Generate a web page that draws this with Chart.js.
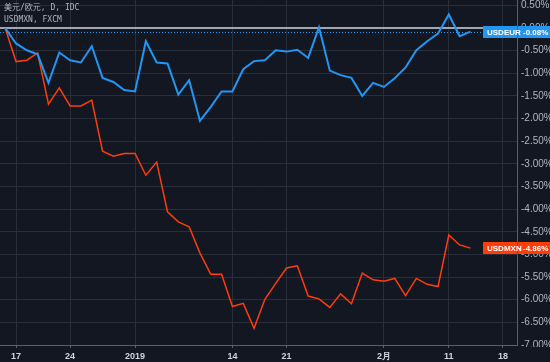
<!DOCTYPE html>
<html>
<head>
<meta charset="utf-8">
<script src="https://cdn.jsdelivr.net/npm/chart.js@4.4.0/dist/chart.umd.min.js"></script>
<style>
html, body { margin: 0; padding: 0; background: #131722; }
#wrap { position: relative; width: 550px; height: 362px; }
#legend {
    position: absolute; left: 4px; top: 2px;
    font: 8px 'DejaVu Sans Mono', 'Noto Sans CJK SC', monospace;
    color: #b2b5be; line-height: 12px; pointer-events: none;
}
</style>
</head>
<body>
<div id="wrap">
    <canvas id="chart" width="550" height="362"></canvas>
    <div id="legend"><div>美元/欧元, D, IDC</div><div>USDMXN, FXCM</div></div>
</div>
<script>
// ========== 数据 ==========
// 交易日 (2018-12-14 ~ 2019-02-18)
const days = [
    '12-14', '12-17', '12-18', '12-19', '12-20', '12-21', '12-24', '12-25', '12-26', '12-27', '12-28', '12-31',
    '01-01', '01-02', '01-03', '01-04', '01-07', '01-08', '01-09', '01-10', '01-11',
    '01-14', '01-15', '01-16', '01-17', '01-18', '01-21', '01-22', '01-23', '01-24', '01-25',
    '01-28', '01-29', '01-30', '01-31', '02-01', '02-04', '02-05', '02-06', '02-07', '02-08',
    '02-11', '02-12', '02-13', '02-14', '02-15', '02-18'
];
const tickDays = ['12-17', '12-24', '01-01', '01-14', '01-21', '02-01', '02-11', '02-18'];
const tickLabels = ['17', '24', '2019', '14', '21', '2月', '11', '18'];

// 涨跌幅 (%)
const usdeur = [0.00, -0.34, -0.49, -0.58, -1.21, -0.54, -0.71, -0.76, -0.40, -1.10, -1.19, -1.37, -1.40,
    -0.29, -0.76, -0.78, -1.47, -1.15, -2.05, -1.74, -1.40, -1.40, -0.91, -0.73, -0.71, -0.49, -0.52,
    -0.48, -0.66, 0.02, -0.94, -1.04, -1.10, -1.50, -1.21, -1.30, -1.11, -0.87, -0.49, -0.29, -0.12,
    0.30, -0.18, -0.08];
const usdmxn = [0.00, -0.74, -0.71, -0.55, -1.68, -1.32, -1.72, -1.72, -1.59, -2.72, -2.83, -2.77, -2.77,
    -3.25, -2.96, -4.06, -4.28, -4.39, -4.97, -5.44, -5.44, -6.15, -6.08, -6.63, -5.99, -5.64, -5.30,
    -5.25, -5.92, -5.98, -6.17, -5.87, -6.09, -5.41, -5.56, -5.59, -5.53, -5.91, -5.53, -5.66, -5.71,
    -4.57, -4.79, -4.86];

const BG = '#131722';
const BLUE = '#2196f3';
const RED = '#ff3d0a';
const GRID = '#2a2e39';
const AXIS = '#5d606b';

const toPoints = arr => arr.map((v, i) => ({ x: i, y: v }));

// ========== 插件: 最新值标签 ==========
const lastValuePlugin = {
    id: 'lastValue',
    afterDraw(chart) {
        const { ctx, chartArea, scales } = chart;
        const y = scales.y;
        // 底部遮挡 (-7.00% 被截断)
        ctx.save();
        ctx.fillStyle = BG;
        ctx.fillRect(chartArea.right + 1, chartArea.bottom + 2, chart.width, chart.height);

        const items = [
            { name: 'USDEUR', value: usdeur[usdeur.length - 1], color: BLUE },
            { name: 'USDMXN', value: usdmxn[usdmxn.length - 1], color: RED }
        ];
        items.forEach(it => {
            const py = Math.round(y.getPixelForValue(it.value));
            ctx.fillStyle = it.color;
            ctx.fillRect(chartArea.right - 34, py - 6, chart.width - chartArea.right + 34, 12);
            ctx.fillStyle = 'rgba(0,0,0,0.25)';
            ctx.fillRect(chartArea.right, py - 6, 1, 12);
            ctx.fillStyle = '#ffffff';
            ctx.font = 'bold 8px "Liberation Sans", Arial, sans-serif';
            ctx.textBaseline = 'middle';
            ctx.textAlign = 'left';
            ctx.fillText(it.name, chartArea.right - 30, py + 0.5);
            ctx.fillRect(chartArea.right + 1, py, 2, 1);
            ctx.fillText(it.value.toFixed(2) + '%', chartArea.right + 6, py + 0.5);
        });
        ctx.restore();
    },
    beforeDatasetsDraw(chart) {
        // 当前值虚线
        const { ctx, chartArea, scales } = chart;
        const py = Math.round(scales.y.getPixelForValue(usdeur[usdeur.length - 1])) + 0.5;
        ctx.save();
        ctx.strokeStyle = BLUE;
        ctx.lineWidth = 1;
        ctx.setLineDash([1, 2]);
        ctx.beginPath();
        ctx.moveTo(chartArea.left, py);
        ctx.lineTo(chartArea.right, py);
        ctx.stroke();
        ctx.restore();
    }
};

const noPad = scale => {
    scale.paddingTop = 0;
    scale.paddingBottom = 0;
    scale.paddingLeft = 0;
    scale.paddingRight = 0;
};

// ========== 图表 ==========
new Chart(document.getElementById('chart').getContext('2d'), {
    type: 'line',
    data: {
        datasets: [
            {
                label: 'USDEUR',
                data: toPoints(usdeur),
                borderColor: BLUE,
                borderWidth: 2,
                pointRadius: 0,
                tension: 0,
                fill: false
            },
            {
                label: 'USDMXN',
                data: toPoints(usdmxn),
                borderColor: RED,
                borderWidth: 1.5,
                pointRadius: 0,
                tension: 0,
                fill: false
            }
        ]
    },
    options: {
        responsive: false,
        animation: false,
        layout: { padding: 0 },
        plugins: {
            legend: { display: false },
            tooltip: { enabled: false }
        },
        scales: {
            x: {
                type: 'linear',
                min: -0.48,
                max: 47.3,
                afterBuildTicks: scale => {
                    scale.ticks = tickDays.map(d => ({ value: days.indexOf(d) }));
                },
                afterFit: scale => { scale.height = 17; noPad(scale); },
                grid: { color: GRID, tickLength: 3, tickColor: AXIS },
                border: { color: AXIS },
                ticks: {
                    color: '#d1d4dc',
                    padding: 3,
                    maxRotation: 0,
                    autoSkip: false,
                    font: { size: 9, weight: 'bold', family: '"Liberation Sans", Arial, sans-serif' },
                    callback: v => tickLabels[tickDays.indexOf(days[v])]
                }
            },
            y: {
                position: 'right',
                min: -7,
                max: 0.62,
                afterFit: scale => { scale.width = 33; noPad(scale); },
                grid: {
                    drawTicks: false,
                    color: ctx => ctx.tick && ctx.tick.value === 0 ? '#a3a6af' : GRID,
                    lineWidth: ctx => ctx.tick && ctx.tick.value === 0 ? 2 : 1
                },
                border: { color: AXIS },
                ticks: {
                    stepSize: 0.5,
                    includeBounds: false,
                    padding: 4,
                    color: '#b2b5be',
                    font: { size: 10, family: '"Liberation Sans", Arial, sans-serif' },
                    callback: v => v.toFixed(2) + '%'
                }
            }
        }
    },
    plugins: [lastValuePlugin]
});
</script>
</body>
</html>
